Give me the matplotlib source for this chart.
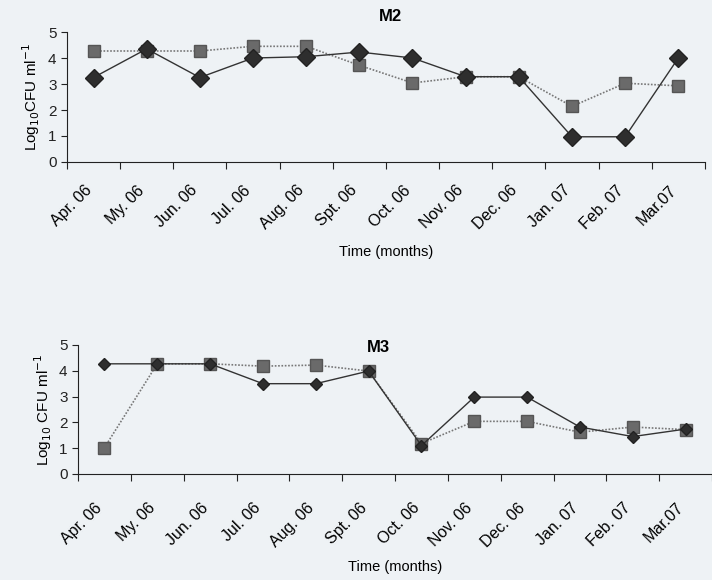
import matplotlib
matplotlib.use('Agg')
import matplotlib.pyplot as plt
import matplotlib.transforms as mtransforms
import numpy as np

# --- datos ---
months = ['Apr. 06', 'My. 06', 'Jun. 06', 'Jul. 06', 'Aug. 06', 'Spt. 06',
          'Oct. 06', 'Nov. 06', 'Dec. 06', 'Jan. 07', 'Feb. 07', 'Mar.07']

m2_diamond = [3.25, 4.35, 3.25, 4.0, 4.05, 4.23, 4.0, 3.28, 3.28, 0.97, 0.97, 4.0]
m2_square = [4.27, 4.27, 4.27, 4.45, 4.45, 3.72, 3.04, 3.28, 3.28, 2.14, 3.03, 2.93]

m3_diamond = [4.27, 4.27, 4.27, 3.5, 3.5, 3.99, 1.1, 2.98, 2.98, 1.82, 1.45, 1.74]
m3_square = [1.02, 4.27, 4.27, 4.18, 4.22, 3.99, 1.18, 2.04, 2.04, 1.62, 1.82, 1.72]

plt.rcParams['font.family'] = ['Liberation Sans', 'DejaVu Sans']
bg = '#eef2f5'

fig = plt.figure(figsize=(7.12, 5.8), dpi=100, facecolor=bg)
ax_top = fig.add_axes([0.094, 0.7207, 0.896, 0.2241])
ax_bot = fig.add_axes([0.1096, 0.1828, 0.8904, 0.2224])


def draw_panel(ax, diamond, square, d_size, ylabel, title, tx, ty, lpad, xpad):
    x = np.arange(len(months))
    ax.set_facecolor('none')
    ax.plot(x, square, linestyle=(0, (1, 1)), color='#777777', lw=1.2,
            marker='s', markersize=8, markerfacecolor='#6a6a6a',
            markeredgecolor='#555555', zorder=2)
    ax.plot(x, diamond, linestyle='-', color='#333333', lw=1.0,
            marker='D', markersize=d_size, markerfacecolor='#2e2e2e',
            markeredgecolor='#222222', zorder=3)
    ax.set_xlim(-0.5, len(months) - 0.5)
    ax.set_ylim(0, 5)
    ax.set_yticks(range(6))
    ax.tick_params(axis='y', labelsize=11, length=4, direction='out', colors='#222222')
    ax.set_xticks(np.arange(-0.5, len(months), 1.0))
    ax.set_xticklabels([])
    ax.set_xticks(x, minor=True)
    ax.set_xticklabels(months, minor=True, rotation=45, ha='right',
                       rotation_mode='anchor', fontsize=11.5)
    ax.tick_params(axis='x', which='major', length=5, direction='out', colors='#222222')
    ax.tick_params(axis='x', which='minor', length=0, pad=xpad)
    # desplazar etiquetas un poco a la izquierda
    shift = mtransforms.ScaledTranslation(-7 / 72, 0, fig.dpi_scale_trans)
    for lbl in ax.get_xticklabels(minor=True):
        lbl.set_transform(lbl.get_transform() + shift)
    for s in ['top', 'right']:
        ax.spines[s].set_visible(False)
    for s in ['left', 'bottom']:
        ax.spines[s].set_color('#222222')
    ax.set_ylabel(ylabel, fontsize=11, labelpad=4)
    ax.set_xlabel('Time (months)', fontsize=10.5, labelpad=lpad)
    fig.text(tx, ty, title, fontsize=12, fontweight='bold', ha='center', va='center')


draw_panel(ax_top, m2_diamond, m2_square, 9, r'Log$_{10}$CFU ml$^{-1}$', 'M2',
           0.548, 0.972, 9, 15)
draw_panel(ax_bot, m3_diamond, m3_square, 6, r'Log$_{10}$ CFU ml$^{-1}$', 'M3',
           0.531, 0.4, 7, 19)

fig.savefig('out.png', dpi=100, facecolor=bg)
